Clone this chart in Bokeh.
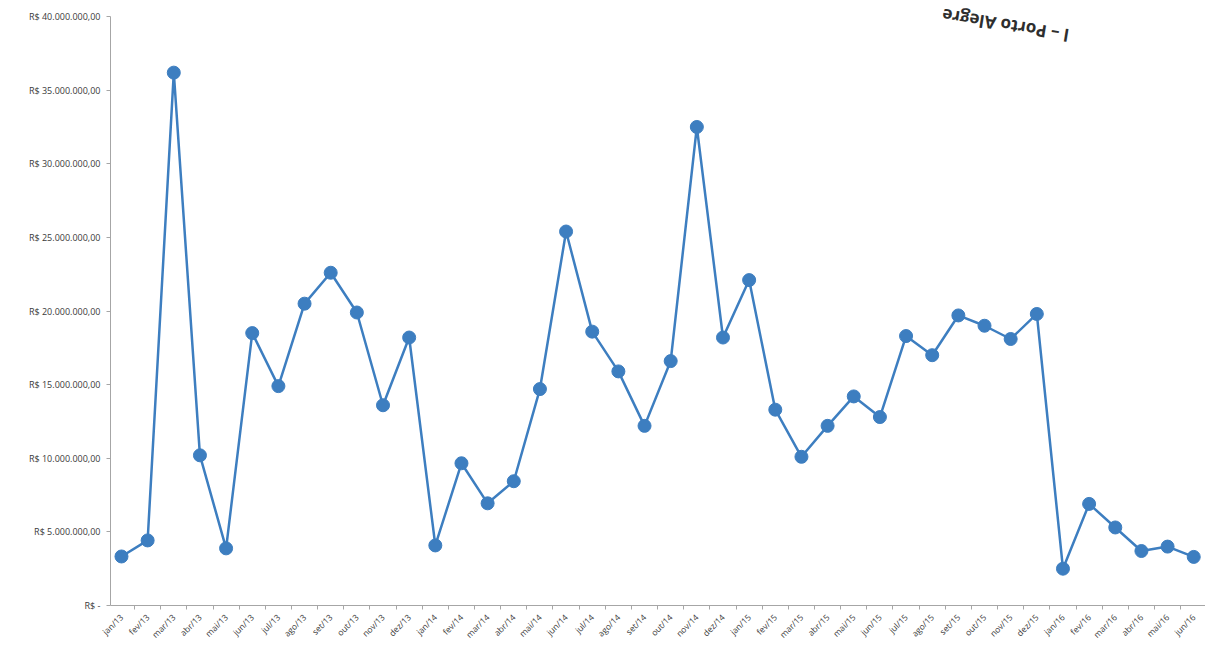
import math
from bokeh.plotting import figure
from bokeh.models import FixedTicker, Range1d, ColumnDataSource, Label
from bokeh.embed import file_html
from bokeh.resources import INLINE

months = ["jan/13", "fev/13", "mar/13", "abr/13", "mai/13", "jun/13", "jul/13", "ago/13",
          "set/13", "out/13", "nov/13", "dez/13",
          "jan/14", "fev/14", "mar/14", "abr/14", "mai/14", "jun/14", "jul/14", "ago/14",
          "set/14", "out/14", "nov/14", "dez/14",
          "jan/15", "fev/15", "mar/15", "abr/15", "mai/15", "jun/15", "jul/15", "ago/15",
          "set/15", "out/15", "nov/15", "dez/15",
          "jan/16", "fev/16", "mar/16", "abr/16", "mai/16", "jun/16"]

values = [3330000, 4420000, 36190000, 10200000, 3880000, 18500000, 14900000, 20500000,
          22600000, 19900000, 13600000, 18200000,
          4080000, 9660000, 6940000, 8440000, 14700000, 25400000, 18600000, 15900000,
          12200000, 16600000, 32500000, 18200000,
          22100000, 13300000, 10100000, 12200000, 14200000, 12800000, 18300000, 17000000,
          19700000, 19000000, 18100000, 19800000,
          2500000, 6900000, 5300000, 3700000, 4000000, 3300000]

y_ticks = [0, 5000000, 10000000, 15000000, 20000000, 25000000, 30000000, 35000000, 40000000]
y_labels = ["R$ -", "R$ 5.000.000,00", "R$ 10.000.000,00", "R$ 15.000.000,00",
            "R$ 20.000.000,00", "R$ 25.000.000,00", "R$ 30.000.000,00",
            "R$ 35.000.000,00", "R$ 40.000.000,00"]

stamp_text = "l – Porto Alegre"

idx = list(range(len(months)))
src = ColumnDataSource(data=dict(x=idx, y=values, m=months))

FONT = "Open Sans"
BLUE = "#3D7EC0"

p = figure(width=1205, height=646, output_backend="svg", toolbar_location=None,
           x_range=Range1d(-0.42, 41.45), y_range=Range1d(0, 41090000),
           min_border_left=110, min_border_right=0, min_border_top=0, min_border_bottom=0)
p.background_fill_color = "white"
p.border_fill_color = "white"
p.outline_line_color = None
p.xgrid.grid_line_color = None
p.ygrid.grid_line_color = None

p.line("x", "y", source=src, line_color=BLUE, line_width=2.5)
p.scatter("x", "y", source=src, size=13, fill_color=BLUE, line_color=BLUE)

# y axis
ya = p.yaxis[0]
ya.ticker = FixedTicker(ticks=y_ticks)
ya.bounds = (0, 40000000)
ya.major_label_overrides = {t: l for t, l in zip(y_ticks, y_labels)}
ya.axis_line_color = "#A6A6A6"
ya.major_tick_line_color = "#A6A6A6"
ya.major_tick_out = 4
ya.major_tick_in = 0
ya.minor_tick_line_color = None
ya.major_label_text_font = FONT
ya.major_label_text_font_size = "9px"
ya.major_label_text_color = "#3A3A3A"
ya.major_label_standoff = 6

# x axis
xa = p.xaxis[0]
xa.ticker = FixedTicker(ticks=idx, minor_ticks=[i - 0.5 for i in range(len(months) + 1)])
xa.major_label_overrides = {i: m for i, m in enumerate(months)}
xa.major_label_orientation = math.pi / 4
xa.axis_line_color = "#A6A6A6"
xa.major_tick_line_color = None
xa.minor_tick_line_color = "#A6A6A6"
xa.minor_tick_out = 4
xa.minor_tick_in = 0
xa.major_label_text_font = FONT
xa.major_label_text_font_size = "8.5px"
xa.major_label_text_color = "#3A3A3A"
xa.major_label_standoff = 4

# stamp remnant (top right, upside-down text from a scanned stamp)
stamp = Label(x=33.8, y=39400000, text=stamp_text, angle=2.98,
              text_font=FONT, text_font_size="17px", text_font_style="bold",
              text_color="#2E2E2E", text_align="center", text_baseline="middle")
p.add_layout(stamp)

open("out.html", "w").write(file_html(p, INLINE))
